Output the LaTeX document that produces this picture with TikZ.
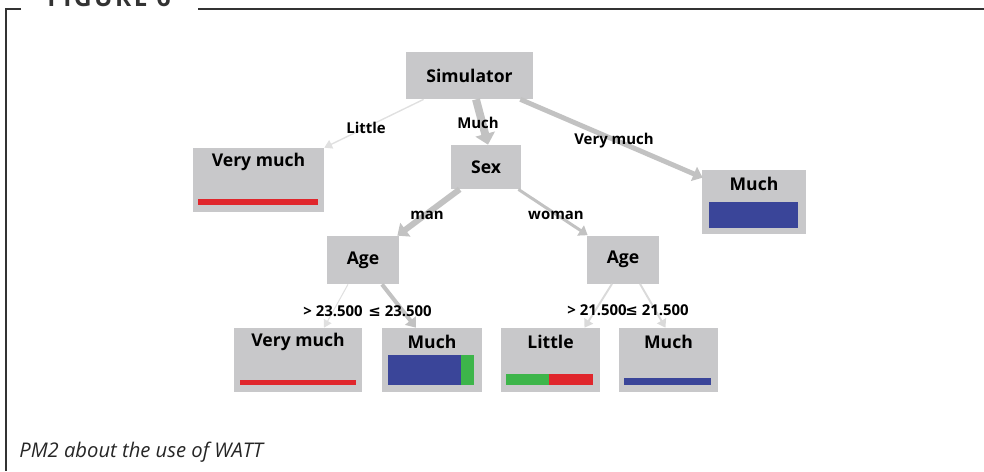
\documentclass[tikz,border=0pt]{standalone}
\usepackage{fontspec}
\setmainfont{Open Sans}
\newfontfamily\symfont{DejaVu Sans}
\newfontfamily\headfont[LetterSpace=10]{Open Sans}
\usetikzlibrary{arrows.meta,calc,positioning}
\definecolor{boxgray}{HTML}{C8C8CA}
\definecolor{edgegray}{HTML}{C2C2C2}
\definecolor{palegray}{HTML}{E0E0E0}
\definecolor{frame}{HTML}{333333}
\definecolor{red}{HTML}{E0262C}
\definecolor{blue}{HTML}{3A4599}
\definecolor{green}{HTML}{3DB54A}
\tikzset{
  split/.style={fill=boxgray,minimum width=1.44cm,minimum height=0.96cm,inner sep=0pt,font=\fontsize{10}{12}\selectfont\bfseries},
  leaf/.style={fill=boxgray,minimum height=1.28cm,inner sep=0pt},
  title/.style={inner sep=0pt,font=\fontsize{10}{12}\selectfont\bfseries},
  cond/.style={inner sep=0pt,font=\fontsize{8.5}{10}\selectfont\bfseries},
  branch/.style={draw=edgegray,line width=#1,-{Triangle[length=4pt 0.5,width=4pt 1.6]}}
}

\begin{document}
\begin{tikzpicture}[x=0.02cm,y=-0.02cm]
\useasboundingbox (0,0) rectangle (984,471);
\clip (0,0) rectangle (984,471);
\draw[line width=0.8pt,frame] (21,9) -- (6,9) -- (6,471);
\draw[line width=0.8pt,frame] (198,9) -- (984,9);
\node[anchor=base west,inner sep=0pt,text=frame,font=\headfont\fontsize{14}{17}\selectfont\bfseries] (fig) at (47,6) {FIGURE 6};
% tree
\node[split,minimum width=2.54cm,minimum height=0.94cm] (sim) at (469.5,75.5) {Simulator};
\node[split,minimum width=1.40cm,minimum height=0.88cm] (sex) at (486,167) {Sex};
\node[split] (agel) at (363,260) {Age};
\node[split] (ager) at (623,259.5) {Age};
\node[leaf,minimum width=2.62cm] (lvm) at (258.5,180) {};
\node[leaf,minimum width=2.08cm] (rmu) at (754,202) {};
\node[leaf,minimum width=2.56cm] (l1) at (298,360) {};
\node[leaf,minimum width=2.00cm] (l2) at (432,360) {};
\node[leaf,minimum width=1.98cm] (l3) at (550.5,360) {};
\node[leaf,minimum width=1.98cm] (l4) at (668.5,360) {};
\foreach \n/\t in {lvm/Very much,rmu/Much,l1/Very much,l2/Much,l3/Little,l4/Much}
  \node[title] (\n-t) at ($(\n.north)+(0,14)$) {\t};
\foreach \c/\xa/\ya/\xb/\yb in {red/198/199/318/205, blue/709/202/798/228, red/240/380/356/385,
    blue/388/355/461/385, green/461/355/474/385, green/506/374/549/385, red/549/374/593/385, blue/624/378/711/385}
  \fill[\c] (\xa,\ya) rectangle (\xb,\yb);
\draw[branch=0.8pt,draw=palegray] ($(sim.south west)+(18,0)$) -- (lvm.north east);
\draw[branch=4.5pt] ($(sim.south)+(6.5,0)$) -- ($(sex.north)+(2,0)$);
\draw[branch=2.8pt] ($(sim.south east)+(-13,0)$) -- ($(rmu.north west)+(1,8)$);
\draw[branch=3.4pt] ($(sex.south west)+(9,0)$) -- ($(agel.north east)+(-2,0)$);
\draw[branch=1.7pt] ($(sex.south east)+(-3,0)$) -- ($(ager.north west)+(1,0)$);
\draw[branch=0.6pt,draw=palegray] ($(agel.south)+(-15,0)$) -- ($(l1.north)+(26,0)$);
\draw[branch=2.3pt] ($(agel.south)+(19,0)$) -- ($(l2.north)+(-16,0)$);
\draw[branch=1.1pt,draw=palegray!80!edgegray] ($(ager.south)+(-11,0)$) -- ($(l3.north)+(34,0)$);
\draw[branch=1.1pt,draw=palegray!80!edgegray] ($(ager.south)+(17,0)$) -- ($(l4.north)+(-3,0)$);
% branch labels
\node[cond] (little) at (366,128) {Little};
\node[cond] (much) at (478,123) {Much};
\node[cond] (vmuch) at (614,141) {Very much};
\node[cond] (man) at (427,215) {man};
\node[cond] (woman) at (556,215) {woman};
\node[cond] (gl) at (333,311) {>~23.500};
\node[cond] (ll) at (400,311) {{\symfont ≤}~23.500};
\node[cond] (gr) at (597,310) {>~21.500};
\node[cond] (lr) at (657,310) {{\symfont ≤}~21.500};
\node[anchor=base west,inner sep=0pt,text=black!85,font=\fontsize{11.5}{13}\selectfont\itshape] (cap) at (19,457) {PM2 about the use of WATT};
\end{tikzpicture}
\end{document}
